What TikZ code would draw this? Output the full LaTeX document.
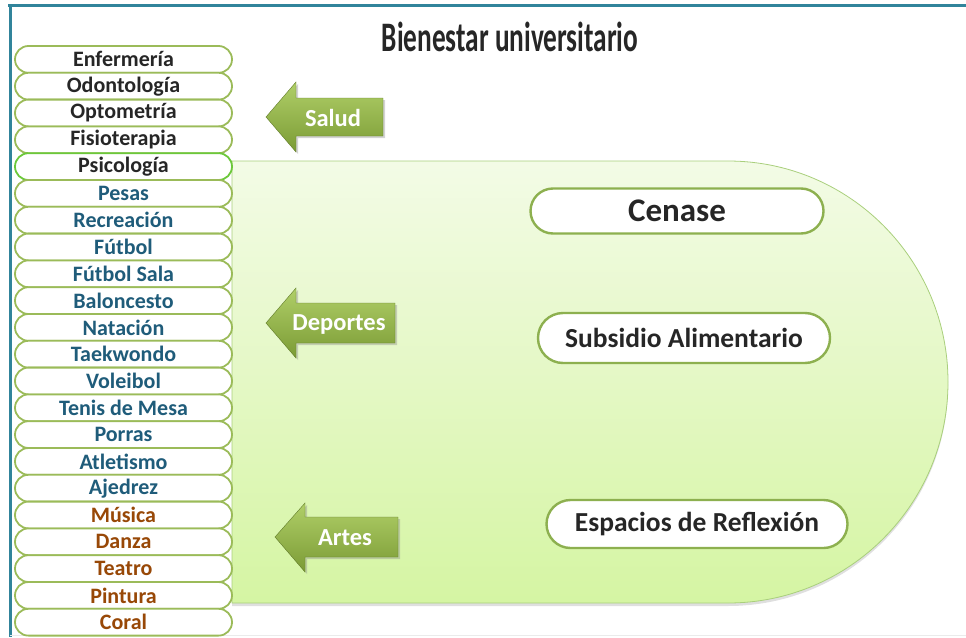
\documentclass[tikz,border=0pt]{standalone}
\usepackage{xcolor}
\usepackage{fontspec}
\setmainfont{Carlito}
\newfontfamily\titlefont[FakeStretch=0.65]{Carlito}
\usetikzlibrary{shapes.misc,shadows}

\definecolor{frameteal}{HTML}{31849B}
\definecolor{listgreen}{HTML}{9BBB59}
\definecolor{psicogreen}{HTML}{6CC83A}
\definecolor{darktext}{HTML}{262626}
\definecolor{sporttext}{HTML}{1F5C7A}
\definecolor{arttext}{HTML}{984807}
\definecolor{paneltop}{HTML}{F3FBE6}
\definecolor{panelbot}{HTML}{D5F5A3}
\definecolor{paneledge}{HTML}{A9CF7C}
\definecolor{arrowtop}{HTML}{B0CF68}
\definecolor{arrowbot}{HTML}{7B9B35}
\definecolor{bubbleedge}{HTML}{8DB04F}

\begin{document}
\begin{tikzpicture}[x=1pt,y=-1pt,
  item/.style={rounded rectangle, draw=listgreen, line width=1.8pt, fill=white,
    minimum width=217pt, minimum height=26.8pt, inner sep=0pt,
    font=\bfseries\fontsize{22}{22}\selectfont},
  salud/.style={item, text=darktext},
  sport/.style={item, text=sporttext},
  art/.style={item, text=arttext},
  bubble/.style={rounded rectangle, draw=bubbleedge, line width=2.4pt, fill=white,
    inner sep=0pt, text=darktext, font=\bfseries\fontsize{27.5}{27.5}\selectfont},
  arrowbody/.style={top color=arrowtop, bottom color=arrowbot, draw=arrowbot!80!black,
    line width=0.4pt, drop shadow={opacity=0.35, shadow xshift=2pt, shadow yshift=-2pt}},
  arrowtext/.style={text=white, font=\bfseries\fontsize{24.5}{24.5}\selectfont}]
\useasboundingbox (0,0) rectangle (966,637);

% frame
\draw [frameteal, line width=3pt] (8,5) -- (966,5);
\draw [frameteal, line width=3pt] (10,5) -- (10,637);
\draw [black!8, line width=1pt] (10,635) -- (966,635);

% title
\node [text=darktext, font=\titlefont\bfseries\fontsize{42}{42}\selectfont] (title) at (510,37) {Bienestar universitario};

% green panel
\path [top color=paneltop, bottom color=panelbot, draw=paneledge, line width=0.8pt,
  drop shadow={opacity=0.25, shadow xshift=0pt, shadow yshift=-3pt}]
  (232,161) -- (728,161) arc [start angle=-90, end angle=90, x radius=220, y radius=221]
  -- (232,603) -- cycle;

% list on the left
\node [salud] (enfermeria) at (123.5,59.4) {Enfermería};
\node [salud] (odontologia) at (123.5,86.2) {Odontología};
\node [salud] (optometria) at (123.5,113.0) {Optometría};
\node [salud] (fisioterapia) at (123.5,139.8) {Fisioterapia};
\node [salud, draw=psicogreen] (psicologia) at (123.5,166.6) {Psicología};
\node [sport] (pesas) at (123.5,193.4) {Pesas};
\node [sport] (recreacion) at (123.5,220.2) {Recreación};
\node [sport] (futbol) at (123.5,247.0) {Fútbol};
\node [sport] (futbolsala) at (123.5,273.8) {Fútbol Sala};
\node [sport] (baloncesto) at (123.5,300.6) {Baloncesto};
\node [sport] (natacion) at (123.5,327.4) {Natación};
\node [sport] (taekwondo) at (123.5,354.2) {Taekwondo};
\node [sport] (voleibol) at (123.5,381.0) {Voleibol};
\node [sport] (tenismesa) at (123.5,407.8) {Tenis de Mesa};
\node [sport] (porras) at (123.5,434.6) {Porras};
\node [sport] (atletismo) at (123.5,461.4) {Atletismo};
\node [sport] (ajedrez) at (123.5,488.2) {Ajedrez};
\node [art] (musica) at (123.5,515.0) {Música};
\node [art] (danza) at (123.5,541.8) {Danza};
\node [art] (teatro) at (123.5,568.6) {Teatro};
\node [art] (pintura) at (123.5,595.4) {Pintura};
\node [art] (coral) at (123.5,622.2) {Coral};

% arrows
\path [arrowbody] (266,117) -- (296,82) -- (296,98) -- (383,98) -- (383,136) -- (296,136) -- (296,152) -- cycle;
\node [arrowtext] (saludlbl) at (333,118) {Salud};

\path [arrowbody] (266,323) -- (296,288) -- (296,303) -- (395,303) -- (395,343) -- (296,343) -- (296,358) -- cycle;
\node [arrowtext] (deporteslbl) at (339,324) {Deportes};

\path [arrowbody] (275,537) -- (305,503) -- (305,517) -- (398,517) -- (398,557) -- (305,557) -- (305,572) -- cycle;
\node [arrowtext] (arteslbl) at (345,538) {Artes};

% bubbles
\node [bubble, minimum width=293pt, minimum height=45pt, font=\bfseries\fontsize{33}{33}\selectfont] (cenase) at (677,211) {Cenase};
\node [bubble, minimum width=292pt, minimum height=50pt] (subsidio) at (684,338) {Subsidio Alimentario};
\node [bubble, minimum width=301pt, minimum height=48pt] (espacios) at (697,524) {Espacios de Reflexión};
\end{tikzpicture}
\end{document}
